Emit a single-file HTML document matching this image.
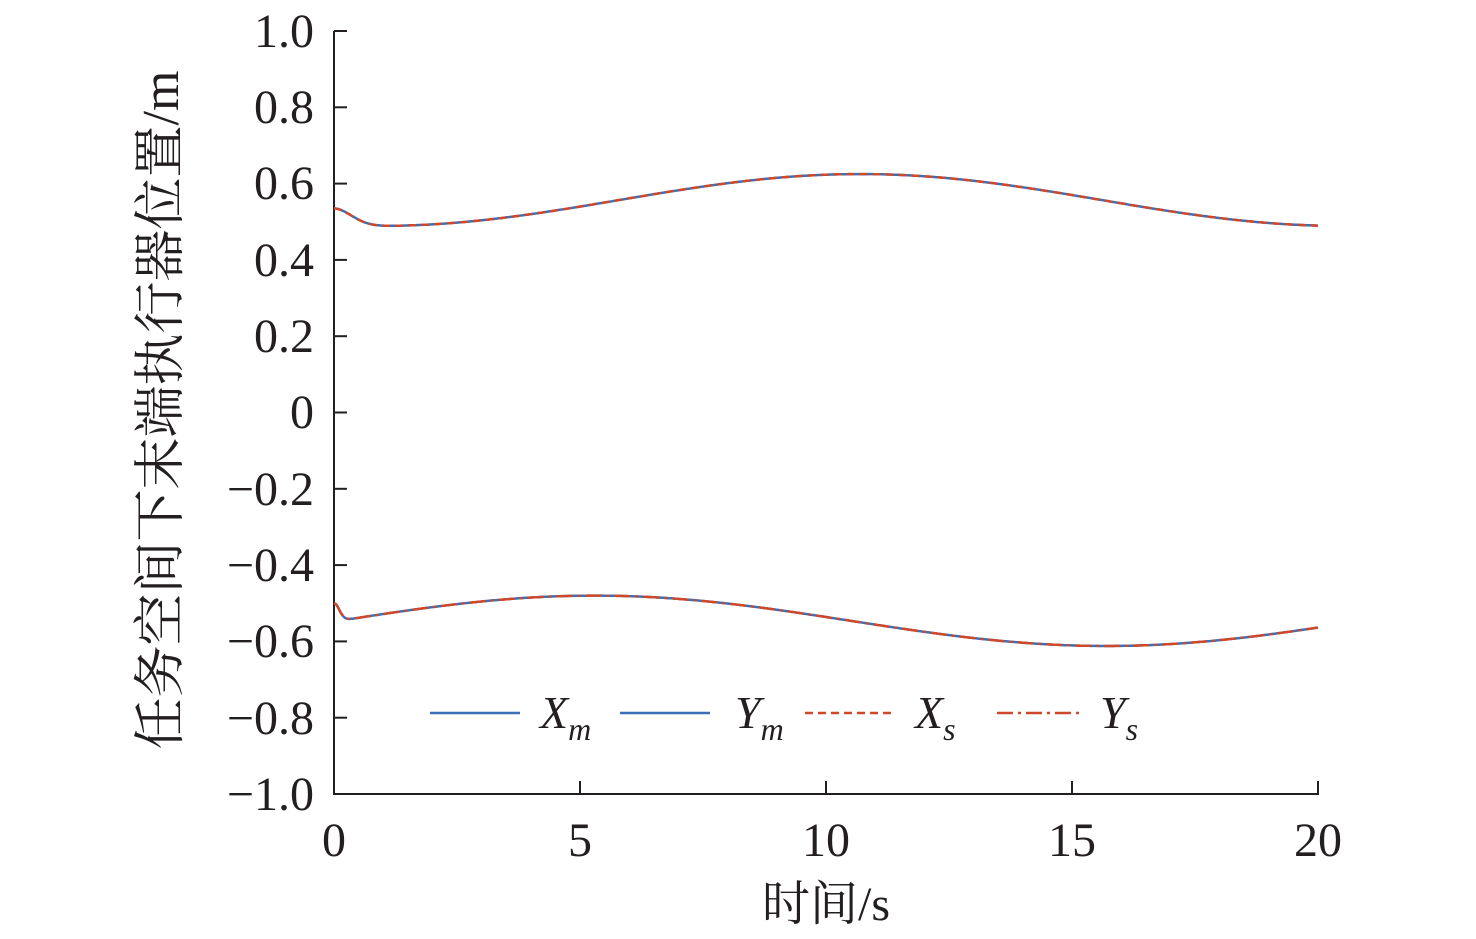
<!DOCTYPE html>
<html><head><meta charset="utf-8"><style>
html,body{margin:0;padding:0;background:#fff;}
svg{display:block;}
text{font-family:"Liberation Serif","Times New Roman",Times,serif;fill:#231f20;}
.cjk{font-family:"Liberation Serif","Times New Roman","Noto Serif CJK SC",serif;}
</style></head><body>
<svg id="s" width="1476" height="939" viewBox="0 0 1476 939" xmlns="http://www.w3.org/2000/svg">
<g stroke="#231f20" stroke-width="2" fill="none">
<line x1="334" y1="31" x2="334" y2="795"/>
<line x1="333" y1="794" x2="1319" y2="794"/>
<line x1="334" y1="31" x2="347" y2="31"/>
<line x1="334" y1="107.3" x2="347" y2="107.3"/>
<line x1="334" y1="183.6" x2="347" y2="183.6"/>
<line x1="334" y1="259.9" x2="347" y2="259.9"/>
<line x1="334" y1="336.2" x2="347" y2="336.2"/>
<line x1="334" y1="412.5" x2="347" y2="412.5"/>
<line x1="334" y1="488.8" x2="347" y2="488.8"/>
<line x1="334" y1="565.1" x2="347" y2="565.1"/>
<line x1="334" y1="641.4" x2="347" y2="641.4"/>
<line x1="334" y1="717.7" x2="347" y2="717.7"/>
<line x1="580" y1="794" x2="580" y2="781"/>
<line x1="826" y1="794" x2="826" y2="781"/>
<line x1="1072" y1="794" x2="1072" y2="781"/>
<line x1="1318" y1="794" x2="1318" y2="781"/>
</g>
<g font-size="48" text-anchor="end">
<text x="314" y="47">1.0</text>
<text x="314" y="123">0.8</text>
<text x="314" y="199">0.6</text>
<text x="314" y="276">0.4</text>
<text x="314" y="352">0.2</text>
<text x="314" y="428">0</text>
<text x="314" y="505">−0.2</text>
<text x="314" y="581">−0.4</text>
<text x="314" y="657">−0.6</text>
<text x="314" y="734">−0.8</text>
<text x="314" y="810">−1.0</text>
</g>
<g font-size="48" text-anchor="middle">
<text x="334" y="856">0</text>
<text x="580" y="856">5</text>
<text x="826" y="856">10</text>
<text x="1072" y="856">15</text>
<text x="1318" y="856">20</text>
<text class="cjk" x="826" y="920">时间/s</text>
<text class="cjk" font-size="52" transform="translate(178,410) rotate(-90)">任务空间下末端执行器位置/m</text>
</g>
<g id="curves" fill="none" stroke-width="2.5"></g>
<g stroke-width="2.5">
<line x1="430" y1="713" x2="520" y2="713" stroke="#3b6fb6"/>
<line x1="620" y1="713" x2="710" y2="713" stroke="#3b6fb6"/>
<line x1="805" y1="713" x2="895" y2="713" stroke="#d0482a" stroke-dasharray="8,5"/>
<line x1="997" y1="713" x2="1080" y2="713" stroke="#d0482a" stroke-dasharray="16,5,3,5"/>
</g>
<g font-size="46" font-style="italic">
<text x="540" y="728">X<tspan font-size="32" dy="12">m</tspan></text>
<text x="735" y="728">Y<tspan font-size="32" dy="12">m</tspan></text>
<text x="915" y="728">X<tspan font-size="32" dy="12">s</tspan></text>
<text x="1100" y="728">Y<tspan font-size="32" dy="12">s</tspan></text>
</g>
<script>
(function(){
function X(t){return 334+t*49.2;}
function Y(v){return 412.5-v*381.5;}
function ub(t){return 0.557+0.068*Math.sin(2*Math.PI*(t-5.8)/19.6);}
function up(t){var d=0.535-ub(0);var k=t/0.5;return ub(t)+d*Math.exp(-k*k);}
function lb(t){return -0.546+0.066*Math.cos(2*Math.PI*(t-5.3)/20.8);}
function lo(t){var d=-0.5-lb(0);var k=t/0.15;return lb(t)+d*Math.exp(-k*k);}
function path(f){var s="";for(var i=0;i<=800;i++){var t=i*20/800;s+=(i?"L":"M")+X(t).toFixed(1)+" "+Y(f(t)).toFixed(1);}return s;}
var g=document.getElementById("curves");
var defs=[[up,"#3b6fb6",""],[lo,"#3b6fb6",""],[up,"#d0482a","8,5"],[lo,"#d0482a","16,5,3,5"]];
defs.forEach(function(d){var p=document.createElementNS("http://www.w3.org/2000/svg","path");p.setAttribute("d",path(d[0]));p.setAttribute("stroke",d[1]);if(d[2])p.setAttribute("stroke-dasharray",d[2]);g.appendChild(p);});
})();
</script>
</svg>
</body></html>
